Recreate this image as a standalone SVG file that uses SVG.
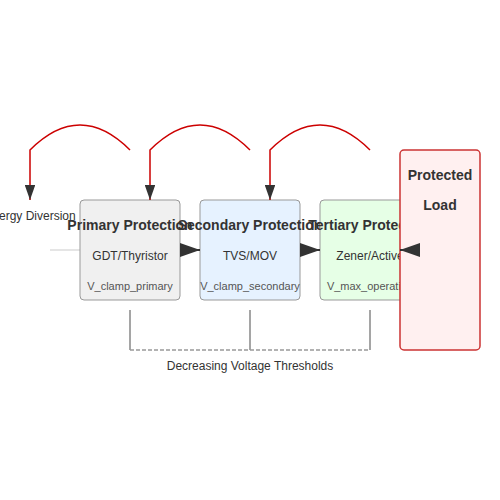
<svg xmlns="http://www.w3.org/2000/svg" width="500" height="500" viewBox="0 0 500 500">
<defs>
<marker id="ah" viewBox="0 0 10 7" refX="10" refY="3.5" markerWidth="10" markerHeight="7" orient="auto">
<polygon points="0,0 10,3.5 0,7" fill="#333"/>
</marker>
<style>
text{font-family:"Liberation Sans",Arial,sans-serif;text-anchor:middle;fill:#333}
.t{font-size:14px;font-weight:bold}
.s{font-size:12px}
.v{font-size:11px;fill:#555}
.box{stroke:#999;stroke-width:1}
.flow{stroke:#333;stroke-width:2;fill:none;marker-end:url(#ah)}
.div{stroke:#cc0000;stroke-width:1.5;fill:none;marker-end:url(#ah)}
.br{stroke:#888;stroke-width:1.5;fill:none}
</style>
</defs>
<rect width="500" height="500" fill="#fff"/>
<line x1="50" y1="250" x2="80" y2="250" stroke="#ddd" stroke-width="1.5"/>
<g id="energy-diversion"><text class="s" x="30" y="220">Energy Diversion</text></g>
<g id="primary">
<rect class="box" x="80" y="200" width="100" height="100" rx="4" fill="#f0f0f0"/>
<text class="t" x="130" y="230">Primary Protection</text>
<text class="s" x="130" y="260">GDT/Thyristor</text>
<text class="v" x="130" y="290">V_clamp_primary</text>
</g>
<g id="secondary">
<rect class="box" x="200" y="200" width="100" height="100" rx="4" fill="#e6f2ff"/>
<text class="t" x="250" y="230">Secondary Protection</text>
<text class="s" x="250" y="260">TVS/MOV</text>
<text class="v" x="250" y="290">V_clamp_secondary</text>
</g>
<g id="tertiary">
<rect class="box" x="320" y="200" width="100" height="100" rx="4" fill="#e6ffe6"/>
<text class="t" x="370" y="230">Tertiary Protection</text>
<text class="s" x="370" y="260">Zener/Active</text>
<text class="v" x="370" y="290">V_max_operation</text>
</g>
<g id="load">
<rect x="400" y="150" width="80" height="200" rx="4" fill="#fff0f0" stroke="#cc3333" stroke-width="1.5"/>
<text class="t" x="440" y="180">Protected</text>
<text class="t" x="440" y="210">Load</text>
</g>
<g id="connectors">
<line class="flow" x1="180" y1="250" x2="200" y2="250"/>
<line class="flow" x1="300" y1="250" x2="320" y2="250"/>
<line class="flow" x1="420" y1="250" x2="400" y2="250"/>
<path class="div" d="M130 150 Q80 100 30 150 L30 200"/>
<path class="div" d="M250 150 Q200 100 150 150 L150 200"/>
<path class="div" d="M370 150 Q320 100 270 150 L270 200"/>
<path class="br" d="M130 310 V350 M250 310 V350 M370 310 V350"/>
<line x1="130" y1="350" x2="370" y2="350" stroke="#999" stroke-width="1.5" stroke-dasharray="4,2"/>
</g>
<g id="threshold-label"><text class="s" x="250" y="370">Decreasing Voltage Thresholds</text></g>
</svg>
